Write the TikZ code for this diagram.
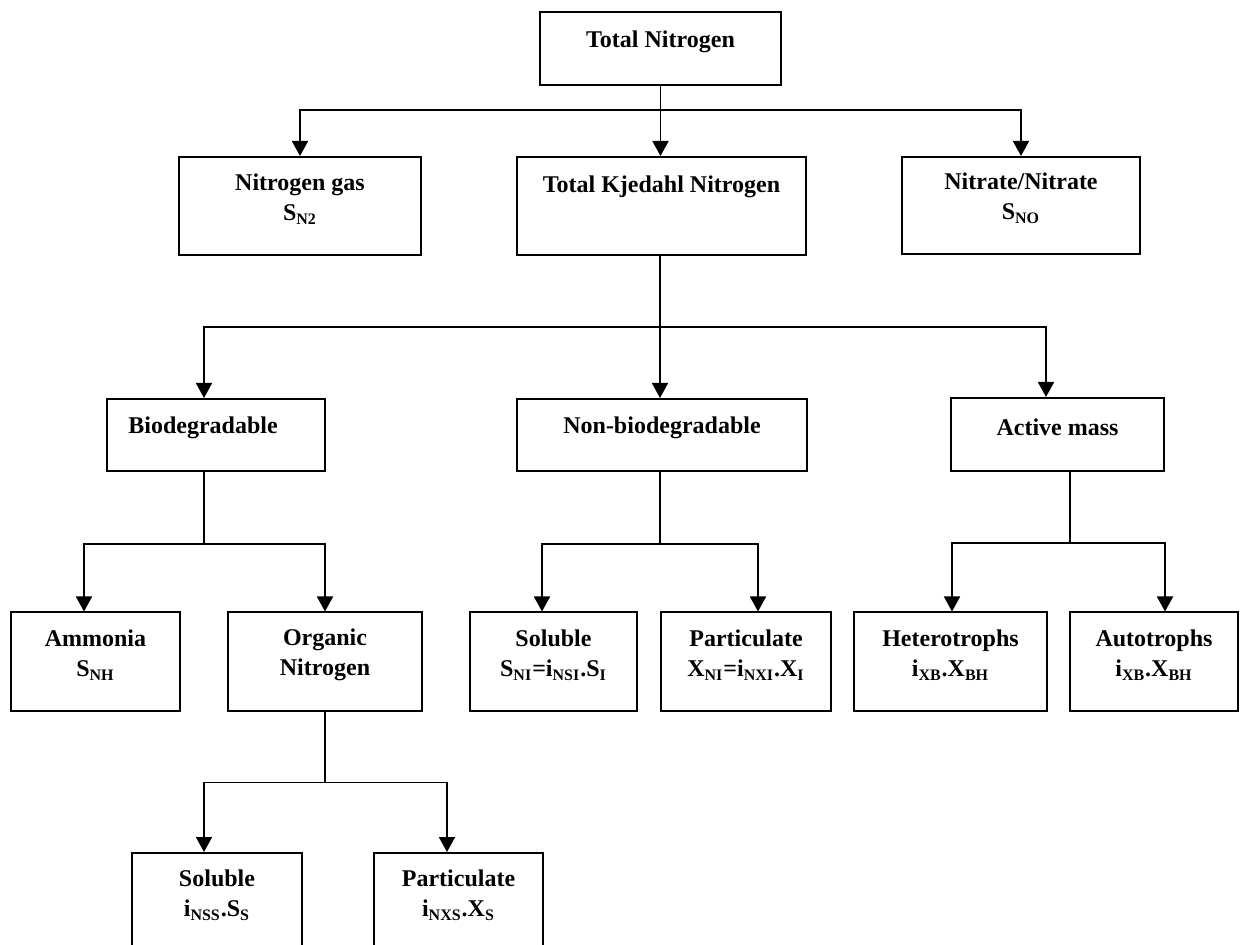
\documentclass[tikz,border=0pt]{standalone}
\usepackage{fontspec}
\setmainfont{Liberation Serif}
\usetikzlibrary{arrows.meta}

\tikzset{
  box/.style={draw, line width=1pt, rectangle, inner sep=0pt},
  txt/.style={align=center, yshift=3.5pt, font=\bfseries\fontsize{12}{15}\selectfont},
  link/.style={line width=0.9pt},
  arr/.style={line width=0.9pt, -{Triangle[length=7.5pt, width=8pt]}}
}

\begin{document}
\begin{tikzpicture}[x=0.5pt, y=-0.5pt]
    \useasboundingbox (0,0) rectangle (1242,945);
    \clip (0,0) rectangle (1242,945);
    \node[box, minimum width=120.5pt, minimum height=36.5pt, label={[txt]center:Total Nitrogen}] (total) at (660.5,48.5) {};
    \node[box, minimum width=121pt, minimum height=49pt, label={[txt]center:{Nitrogen gas\\S\textsubscript{N2}}}] (n2gas) at (300,206) {};
    \node[box, minimum width=144.5pt, minimum height=49pt, label={[txt]center:{Total Kjedahl Nitrogen\\\mbox{}}}] (tkn) at (661.5,206) {};
    \node[box, minimum width=119pt, minimum height=48.5pt, label={[txt]center:{Nitrate/Nitrate\\S\textsubscript{NO}}}] (nitrate) at (1021,205.5) {};
    \node[box, minimum width=109pt, minimum height=36pt, label={[txt, xshift=-6.5pt]center:Biodegradable}] (biodeg) at (216,435) {};
    \node[box, minimum width=145pt, minimum height=36pt, label={[txt]center:Non-biodegradable}] (nonbio) at (662,435) {};
    \node[box, minimum width=106.5pt, minimum height=36.5pt, label={[txt]center:Active mass}] (active) at (1057.5,434.5) {};
    \node[box, minimum width=84.5pt, minimum height=49.5pt, label={[txt]center:{Ammonia\\S\textsubscript{NH}}}] (ammonia) at (95.5,662) {};
    \node[box, minimum width=97pt, minimum height=49.5pt, label={[txt]center:{Organic\\Nitrogen}}] (organic) at (325,662) {};
    \node[box, minimum width=83.5pt, minimum height=49.5pt, label={[txt]center:{Soluble\\S\textsubscript{NI}=i\textsubscript{NSI}.S\textsubscript{I}}}] (solni) at (553.5,662) {};
    \node[box, minimum width=85pt, minimum height=49.5pt, label={[txt]center:{Particulate\\X\textsubscript{NI}=i\textsubscript{NXI}.X\textsubscript{I}}}] (partni) at (746,662) {};
    \node[box, minimum width=96.5pt, minimum height=49.5pt, label={[txt]center:{Heterotrophs\\i\textsubscript{XB}.X\textsubscript{BH}}}] (hetero) at (950.5,662) {};
    \node[box, minimum width=84pt, minimum height=49.5pt, label={[txt]center:{Autotrophs\\i\textsubscript{XB}.X\textsubscript{BH}}}] (auto) at (1154,662) {};
    \node[box, minimum width=85pt, minimum height=49.5pt, label={[txt]center:{Soluble\\i\textsubscript{NSS}.S\textsubscript{S}}}] (solss) at (217,902.5) {};
    \node[box, minimum width=84.5pt, minimum height=49.5pt, label={[txt]center:{Particulate\\i\textsubscript{NXS}.X\textsubscript{S}}}] (partxs) at (458.5,902.5) {};

    \draw[link] (total.south) -- ++(0,24) coordinate (t1);
    \draw[arr] (t1) -| (n2gas.north);
    \draw[arr] (t1) -- (t1 |- tkn.north);
    \draw[arr] (t1) -| (nitrate.north);

    \draw[link] ([xshift=-0.75pt]tkn.south) -- ++(0,71) coordinate (t2);
    \draw[arr] (t2) -| ([xshift=-6pt]biodeg.north);
    \draw[arr] (t2) -- (t2 |- nonbio.north);
    \draw[arr] (t2) -| ([xshift=-5.75pt]active.north);

    \draw[link] ([xshift=-6pt]biodeg.south) -- ++(0,72) coordinate (b3);
    \draw[arr] (b3) -| ([xshift=-5.75pt]ammonia.north);
    \draw[arr] (b3) -| (organic.north);

    \draw[link] ([xshift=-1pt]nonbio.south) -- ++(0,72) coordinate (n3);
    \draw[arr] (n3) -| ([xshift=-5.75pt]solni.north);
    \draw[arr] (n3) -| ([xshift=6pt]partni.north);

    \draw[link] ([xshift=6.25pt]active.south) -- ++(0,71) coordinate (a3);
    \draw[arr] (a3) -| ([xshift=0.75pt]hetero.north);
    \draw[arr] (a3) -| ([xshift=5.5pt]auto.north);

    \draw[link] (organic.south) -- ++(0,70) coordinate (o4);
    \draw[arr] (o4) -| ([xshift=-6.5pt]solss.north);
    \draw[arr] (o4) -| ([xshift=-5.75pt]partxs.north);
\end{tikzpicture}
\end{document}
